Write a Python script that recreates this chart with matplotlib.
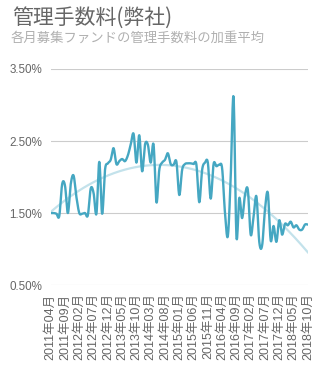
import numpy as np
import matplotlib
matplotlib.use('Agg')
import matplotlib.pyplot as plt

plt.rcParams['font.family'] = ['Liberation Sans', 'Noto Sans CJK JP', 'DejaVu Sans']

# monthly series 2011-04 .. 2018-10 (%)
months = [f'{2011 + (3 + i) // 12}年{(3 + i) % 12 + 1:02d}月' for i in range(91)]
fee = [
    1.50, 1.50, 1.49, 1.46, 1.90, 1.88, 1.50, 1.90, 2.02, 1.72,
    1.50, 1.49, 1.50, 1.47, 1.84, 1.78, 1.49, 2.21, 1.49, 2.10,
    2.19, 2.24, 2.40, 2.18, 2.22, 2.25, 2.22, 2.30, 2.45, 2.60,
    2.20, 2.58, 2.08, 2.45, 2.45, 2.20, 2.45, 1.65, 2.10, 2.20,
    2.24, 2.33, 2.18, 2.17, 2.21, 1.75, 2.10, 2.18, 2.19, 2.19,
    2.18, 2.17, 1.65, 2.10, 2.20, 2.20, 1.70, 2.18, 2.15, 2.17,
    2.12, 1.50, 1.18, 2.00, 3.11, 1.18, 1.71, 1.43, 1.75, 1.82,
    1.20, 1.45, 1.73, 1.10, 1.05, 1.55, 1.78, 1.12, 1.32, 1.10,
    1.40, 1.20, 1.35, 1.33, 1.38, 1.30, 1.33, 1.27, 1.27, 1.34,
    1.34,
]
yticks = [0.5, 1.5, 2.5, 3.5]

x = np.arange(len(fee))
y = np.array(fee)


def catmull_rom(x, y, n=12):
    xs, ys = [], []
    p = np.concatenate([[y[0]], y, [y[-1]]])
    for i in range(len(y) - 1):
        t = np.linspace(0, 1, n, endpoint=False)
        p0, p1, p2, p3 = p[i], p[i + 1], p[i + 2], p[i + 3]
        seg = 0.5 * ((2 * p1) + (-p0 + p2) * t + (2 * p0 - 5 * p1 + 4 * p2 - p3) * t ** 2
                     + (-p0 + 3 * p1 - 3 * p2 + p3) * t ** 3)
        xs.append(x[i] + t)
        ys.append(seg)
    xs.append([x[-1]])
    ys.append([y[-1]])
    return np.concatenate(xs), np.concatenate(ys)


fig = plt.figure(figsize=(3.21, 3.65), dpi=100)
ax = fig.add_axes([0.158, 0.219, 0.801, 0.592])

# trend line (polynomial fit)
coef = np.polyfit(x, y, 2)
xt = np.linspace(0, len(fee) - 1, 200)
ax.plot(xt, np.polyval(coef, xt), color='#c3e2eb', lw=1.6, zorder=2)

sx, sy = catmull_rom(x, y)
ax.plot(sx, sy, color='#45a7c2', lw=1.7, zorder=3)

ax.set_ylim(0.5, 3.5)
ax.set_xlim(0, len(fee) - 1)
ax.set_yticks(yticks)
ax.set_yticklabels([f'{v:.2f}%' for v in yticks])
ax.set_xticks(x[::5])
ax.set_xticklabels(months[::5], rotation=90)
ax.tick_params(axis='y', length=0, pad=6, labelsize=8.4, labelcolor='#666666')
ax.tick_params(axis='x', length=0, pad=6, labelsize=9, labelcolor='#666666')
ax.grid(axis='y', color='#cccccc', lw=0.8)
ax.set_axisbelow(True)
for s in ax.spines.values():
    s.set_visible(False)

fig.text(0.038, 0.95, '管理手数料(弊社)', fontsize=15, color='#666666',
         va='center', family=['Noto Sans CJK JP'])
fig.text(0.034, 0.896, '各月募集ファンドの管理手数料の加重平均', fontsize=9.6,
         color='#b0b0b0', va='center', family=['Noto Sans CJK JP'])

plt.savefig('out.png', dpi=100)
